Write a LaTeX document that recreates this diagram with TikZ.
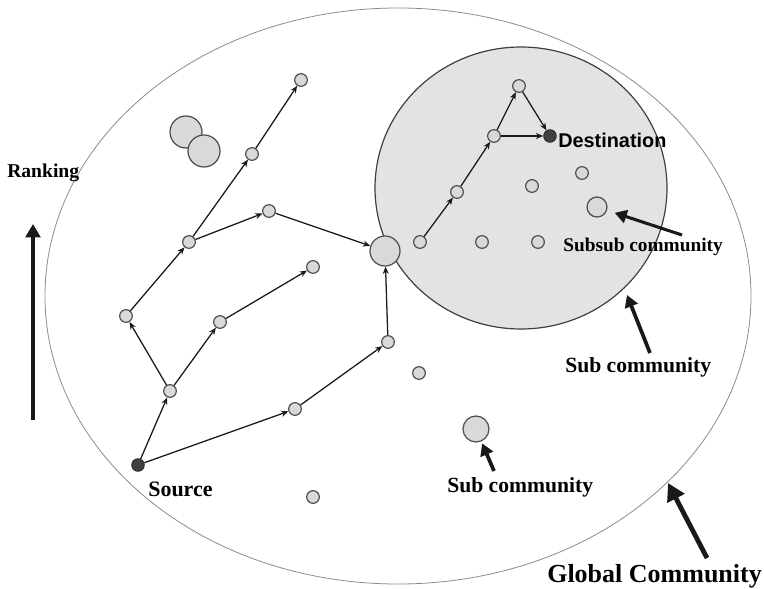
\documentclass[tikz,border=0pt]{standalone}
\usepackage{fontspec}
\setmainfont{Liberation Serif}
\newfontfamily\arialfont{Liberation Sans}
\usetikzlibrary{arrows.meta}

\begin{document}
\begin{tikzpicture}[x=0.75pt,y=-0.75pt,
  peer/.style={circle,draw=black!70,fill=black!15,line width=0.9pt,minimum size=9.5pt,inner sep=0pt},
  endpt/.style={circle,draw=black!85,fill=black!75,line width=0.6pt,minimum size=9.5pt,inner sep=0pt},
  hop/.style={-{Stealth[length=5.5pt,width=4.5pt]},line width=0.95pt,black!90},
  pointer/.style={-{Triangle[length=9pt,width=10pt]},line width=2.3pt,black!90},
  lbl/.style={anchor=base west,inner sep=0pt,font=\bfseries\fontsize{#1}{#1}\selectfont},
]
\useasboundingbox (0,0) rectangle (764,589);
\fill[white] (0,0) rectangle (764,589);

% global community and the large sub community
\draw[black!45,line width=0.6pt] (398,296) ellipse [x radius=264.75pt, y radius=216pt];
\draw[black!75,fill=black!11,line width=0.9pt] (521,188) ellipse [x radius=109.5pt, y radius=105.75pt];

% peers outside the sub community
\node[endpt] (src) at (138,465) {};
\node[peer] (n1) at (170,391) {};
\node[peer] (n2) at (126,316) {};
\node[peer] (n3) at (220,322) {};
\node[peer] (n4) at (313,267) {};
\node[peer] (n5) at (189,242) {};
\node[peer] (n6) at (269,211) {};
\node[peer] (n7) at (252,154) {};
\node[peer] (n8) at (301,80) {};
\node[peer,minimum size=22.5pt] (hub) at (385,251) {};
\node[peer] (n9) at (295,409) {};
\node[peer] (n10) at (388,342) {};
\node[peer] (n11) at (419,373) {};
\node[peer] (n12) at (313,497) {};
\node[peer,minimum size=19.5pt] (subA) at (476,429) {};
\node[peer,minimum size=24pt] (twinA) at (186,132) {};
\node[peer,minimum size=24pt] (twinB) at (204,151) {};

% peers inside the sub community
\node[peer] (a1) at (420,242) {};
\node[peer] (a2) at (457,192) {};
\node[peer] (a3) at (494,136) {};
\node[peer] (a4) at (519,86) {};
\node[endpt] (dst) at (550,136) {};
\node[peer] (a5) at (532,186) {};
\node[peer] (a6) at (582,173) {};
\node[peer,minimum size=15pt] (a7) at (597,207) {};
\node[peer] (a8) at (482,242) {};
\node[peer] (a9) at (538,242) {};

% forwarding paths
\draw[hop] (src) -- (n1);
\draw[hop] (src) -- (n9);
\draw[hop] (n1) -- (n2);
\draw[hop] (n1) -- (n3);
\draw[hop] (n3) -- (n4);
\draw[hop] (n2) -- (n5);
\draw[hop] (n5) -- (n6);
\draw[hop] (n5) -- (n7);
\draw[hop] (n7) -- (n8);
\draw[hop] (n6) -- (hub);
\draw[hop] (n9) -- (n10);
\draw[hop] (n10) -- (hub);
\draw[hop] (a1) -- (a2);
\draw[hop] (a2) -- (a3);
\draw[hop] (a3) -- (a4);
\draw[hop] (a4) -- (dst);
\draw[hop] (a3) -- (dst);

% labels
\node[lbl=14.7] (tRank) at (7,177) {Ranking};
\node[lbl=16.5] (tSrc) at (148,496) {Source};
\node[lbl=16.2] (tSubA) at (447,492) {Sub community};
\node[lbl=16.2] (tSubB) at (565,372) {Sub community};
\node[lbl=14.5] (tSubsub) at (563,251) {Subsub community};
\node[lbl=14.9,font=\arialfont\bfseries\fontsize{14.9}{14.9}\selectfont] (tDst) at (558,147) {Destination};
\node[lbl=19.5] (tGlobal) at (547,582) {Global Community};

% annotation arrows
\coordinate (rankFoot) at (33,420);
\coordinate (rankHead) at (33,224);
\draw[-{Triangle[length=10pt,width=11pt]},line width=3.6pt,black!90] (rankFoot) -- (rankHead);

\coordinate (ssTail) at (682,235);
\draw[pointer,shorten >=6pt] (ssTail) -- (a7);

\coordinate (subBTail) at (650,353);
\coordinate (subBHead) at (627,295);
\draw[pointer,line width=2.8pt] (subBTail) -- (subBHead);

\coordinate (subATail) at (494,471);
\draw[pointer,line width=2.8pt,shorten >=1.5pt] (subATail) -- (subA);

\coordinate (globTail) at (707,558);
\coordinate (globHead) at (668,483);
\draw[-{Triangle[length=13pt,width=14pt]},line width=3.6pt,black!90] (globTail) -- (globHead);
\end{tikzpicture}
\end{document}
